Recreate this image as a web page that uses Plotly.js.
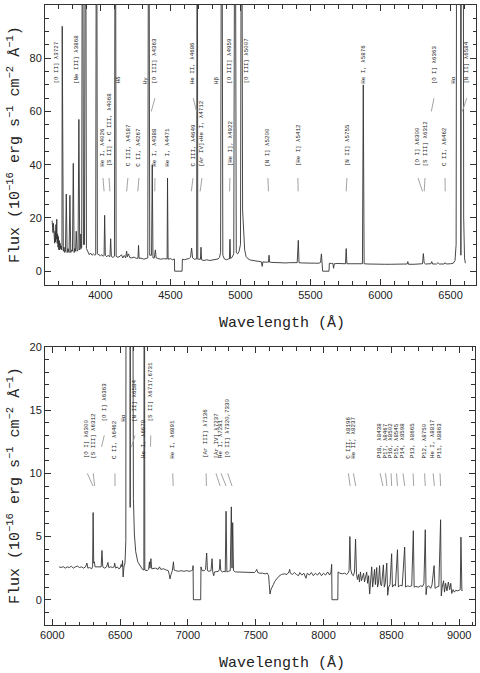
<!DOCTYPE html>
<html>
<head>
<meta charset="utf-8">
<script src="https://cdn.plot.ly/plotly-3.0.1.min.js"></script>
<style>html,body{margin:0;padding:0;background:#fff;}#chart{width:480px;height:673px;}</style>
</head>
<body>
<div id="chart"></div>
<script>
// ---------- DATA ----------
// Blue-arm spectrum: [wavelength (Å), flux (1e-16 erg/s/cm2/Å)]
const blueSpectrum = [[3655,19],[3658,17],[3661,14.5],[3664,18],[3667,12],[3670,16.5],[3673,10.5],[3676,15],[3679,11],[3682,17.5],[3685,12],[3688,19.5],[3691,10.5],[3694,14],[3697,9],[3700,13],[3703,8],[3706,11.5],[3709,8],[3712,10.5],[3715,8.5],[3719,9.5],[3723,8],[3725,9],[3727,92],[3730,8],[3735,7.5],[3740,9],[3745,7],[3750,7.5],[3756,29],[3762,7],[3768,8.5],[3776,7],[3782,28.5],[3788,7],[3794,8],[3800,7.5],[3806,40.5],[3812,7],[3817,8.5],[3822,7.5],[3827,15],[3833,7.5],[3840,8],[3846,57],[3852,8],[3857,9],[3860,14],[3863,8.5],[3866,9],[3872,200],[3879,10],[3886,10],[3893,200],[3900,8.5],[3910,7],[3920,6.2],[3930,6.8],[3940,6],[3950,6.5],[3960,6],[3966,6.2],[3972,200],[3978,6.5],[3990,6],[4000,5.8],[4010,6.2],[4020,5.6],[4026,6],[4030,21],[4035,6],[4045,5.4],[4055,6],[4062,5.5],[4068,5.6],[4073,12.2],[4078,5.5],[4090,5.2],[4100,5.6],[4106,200],[4112,5.6],[4125,5.2],[4140,5.6],[4150,6.2],[4160,5],[4170,5.9],[4180,5],[4187,7.5],[4192,5.4],[4200,6.5],[4210,5.1],[4225,5],[4240,5.3],[4255,4.8],[4268,4.9],[4272,9.7],[4276,4.8],[4290,4.9],[4310,4.5],[4325,4.8],[4338,5],[4345,200],[4352,6],[4365,6],[4370,40],[4375,5],[4385,5],[4392,8],[4398,5],[4410,4.8],[4430,4.5],[4450,4.7],[4465,4.5],[4476,4.6],[4479,35],[4483,4.5],[4500,4.7],[4515,4.3],[4528,4.6],[4530,0],[4583,0],[4585,4.5],[4600,4.3],[4620,4.5],[4635,4.8],[4643,5.2],[4651,8.7],[4658,5],[4670,4.5],[4687,4.6],[4691,200],[4695,4.5],[4705,4.6],[4714,4.5],[4718,9],[4722,4.3],[4740,4],[4760,4.3],[4780,4],[4800,4.2],[4820,4.3],[4840,4.6],[4850,5.2],[4858,7],[4866,200],[4874,6],[4885,4.6],[4900,4.3],[4915,4.6],[4921,4.6],[4925,12],[4929,4.8],[4940,5.2],[4952,6.5],[4961,200],[4970,7],[4980,6.5],[4990,7.5],[5000,10],[5008,200],[5015,23],[5022,14],[5030,8],[5040,5.5],[5055,4.6],[5070,4.2],[5090,4],[5110,3.8],[5130,3.6],[5150,3.5],[5155,1.8],[5160,3.5],[5175,3.4],[5190,3.3],[5200,3.4],[5204,6],[5208,3.4],[5225,3.3],[5250,3.2],[5275,3.3],[5300,3.2],[5325,3.1],[5350,3.2],[5380,3.1],[5405,3.2],[5413,11.6],[5418,3.2],[5440,3.1],[5470,3],[5500,3.1],[5530,3],[5560,3],[5572,3.3],[5578,6.5],[5581,2.4],[5584,5],[5587,0],[5632,0],[5635,3],[5650,2.9],[5660,2.9],[5665,1.1],[5670,2.8],[5690,2.9],[5720,2.8],[5750,2.8],[5755,8.5],[5760,2.8],[5790,2.8],[5820,2.7],[5850,2.7],[5871,2.8],[5877,70],[5883,2.8],[5910,2.7],[5950,2.6],[5990,2.7],[6030,2.6],[6070,2.6],[6110,2.6],[6150,2.6],[6190,2.7],[6195,3.6],[6200,2.6],[6240,2.6],[6280,2.7],[6300,2.8],[6306,6.6],[6312,3.1],[6320,2.7],[6360,2.8],[6366,3.6],[6372,2.7],[6400,2.7],[6410,3.2],[6420,2.7],[6455,2.7],[6462,3.2],[6470,2.7],[6500,2.8],[6520,3],[6532,4],[6540,10],[6548,300],[6556,150],[6563,1000],[6574,6],[6584,500],[6594,20],[6600,5],[6606,3]];

// Red-arm spectrum
const redSpectrum = [[6050,2.6],[6065,2.55],[6080,2.62],[6095,2.5],[6110,2.6],[6125,2.55],[6140,2.65],[6155,2.5],[6170,2.6],[6185,2.66],[6200,2.55],[6215,2.6],[6230,2.5],[6245,2.6],[6255,2.9],[6262,2.5],[6275,2.55],[6290,2.45],[6297,2.6],[6301,6.9],[6305,2.9],[6310,3.0],[6315,2.6],[6330,2.6],[6345,2.55],[6360,2.6],[6366,3.9],[6372,2.6],[6385,2.5],[6400,2.6],[6410,2.95],[6416,2.55],[6430,2.6],[6445,2.55],[6455,2.6],[6460,2.9],[6466,2.5],[6480,2.6],[6490,2.45],[6500,2.5],[6508,2.8],[6514,2.6],[6518,3.1],[6522,1.8],[6528,2.6],[6536,2.9],[6542,4.7],[6548,100],[6556,60],[6563,500],[6574,7.3],[6584,200],[6593,30],[6598,8],[6605,5.2],[6615,3.8],[6630,3.0],[6650,2.6],[6665,2.4],[6675,2.35],[6678,50],[6682,2.35],[6690,2.3],[6700,2.3],[6710,2.4],[6716,3],[6720,2.5],[6727,3.25],[6733,2.45],[6745,2.5],[6760,2.5],[6780,2.4],[6790,2.6],[6800,2.4],[6820,2.45],[6840,2.35],[6855,2.3],[6862,2.0],[6868,1.65],[6875,2.0],[6885,2.3],[6893,3.0],[6898,2.35],[6910,2.3],[6930,2.25],[6950,2.3],[6970,2.25],[6990,2.3],[7010,2.25],[7025,2.3],[7035,2.35],[7038,2.7],[7040,0],[7094,0],[7096,2.6],[7105,2.3],[7120,2.3],[7130,2.4],[7138,3.7],[7144,2.3],[7155,2.25],[7170,2.3],[7178,3.25],[7183,2.2],[7190,1.9],[7196,2.2],[7210,2.2],[7225,2.25],[7232,2.4],[7237,3.2],[7242,2.3],[7255,2.2],[7265,2.25],[7275,2.2],[7281,7.0],[7287,2.2],[7300,2.25],[7312,2.3],[7320,7.35],[7325,2.5],[7330,6.1],[7336,2.3],[7350,2.2],[7370,2.2],[7390,2.15],[7410,2.2],[7430,2.15],[7450,2.15],[7470,2.2],[7490,2.15],[7500,2.25],[7507,2.4],[7515,2.15],[7530,2.1],[7550,2.1],[7570,2.05],[7585,2.1],[7595,1.9],[7600,1.2],[7605,0.45],[7612,0.8],[7620,1.05],[7630,1.2],[7640,1.45],[7655,1.7],[7670,1.85],[7690,2.0],[7710,2.05],[7730,2.0],[7745,2.2],[7750,2.4],[7755,2.1],[7770,2.0],[7785,2.15],[7800,2.0],[7815,1.9],[7825,2.15],[7840,1.95],[7855,2.1],[7870,1.7],[7880,2.1],[7895,1.95],[7910,2.15],[7925,1.9],[7940,2.1],[7955,1.95],[7970,2.15],[7985,1.9],[8000,2.1],[8015,1.95],[8030,2.2],[8045,1.95],[8055,2.2],[8060,2.8],[8062,0],[8105,0],[8107,2.2],[8120,2.1],[8140,2.05],[8155,2.1],[8170,2.0],[8180,2.1],[8188,2.3],[8194,5.0],[8200,2.4],[8210,2.0],[8220,1.9],[8228,2.2],[8236,4.8],[8243,2.0],[8250,1.6],[8258,2.0],[8265,1.4],[8272,2.2],[8280,1.5],[8288,1.9],[8295,2.1],[8302,1.4],[8310,1.8],[8318,2.2],[8325,1.3],[8332,1.9],[8340,0.45],[8347,1.8],[8355,2.6],[8362,1.0],[8370,1.6],[8376,2.4],[8382,1.2],[8392,2.55],[8398,1.0],[8405,1.3],[8413,2.7],[8420,1.2],[8428,1.1],[8441,2.76],[8448,1.0],[8455,1.3],[8466,2.9],[8473,0.35],[8480,1.0],[8490,1.2],[8502,3.64],[8508,1.0],[8520,1.2],[8530,1.1],[8545,3.96],[8552,1.0],[8565,1.15],[8580,1.1],[8598,4.17],[8605,1.0],[8620,1.1],[8635,1.05],[8650,1.1],[8662,5.46],[8668,1.0],[8680,1.05],[8700,1.0],[8715,1.1],[8730,1.05],[8740,1.3],[8750,5.54],[8756,0.4],[8762,1.0],[8775,1.1],[8790,0.9],[8800,1.2],[8815,2.7],[8822,0.9],[8835,1.0],[8850,1.05],[8863,6.33],[8868,0.3],[8875,1.0],[8885,1.5],[8892,0.6],[8900,1.3],[8910,0.7],[8920,1.4],[8930,0.8],[8938,1.3],[8945,0.5],[8955,0.8],[8965,0.6],[8975,0.75],[8990,0.7],[9000,0.75],[9008,0.8],[9013,4.95],[9020,0.7],[9025,0.75]];

// Line identifications, upper panel
const topLabelText = ["[O II] λ3727","[Ne III] λ3868","Hδ","Hγ","[O III] λ4363","He II, λ4686","Hβ","[O III] λ4959","[O III] λ5007","He I, λ5876","[O I] λ6363","Hα","[N II] λ6584",
  "He I, λ4026","[S II] + C III, λ4068","C III, λ4187","C II, λ4267","He I, λ4388","He I, λ4471","C III, λ4649","[Ar IV]+He I, λ4712","[He I], λ4922","[N I] λ5200","[He I] λ5412","[N II] λ5755","[O I] λ6300","[S III] λ6312","C II, λ6462"];
const topLabelWave = [3687,3830,4127,4318,4389,4663,4830,4925,5044,5877,6382,6520,6616,
  4018,4061,4196,4275,4389,4482,4661,4725,4925,5196,5410,5760,6268,6318,6461];
const topLineWave = [null,null,null,null,4363,4686,null,null,null,null,6363,null,6584,
  4026,4068,4187,4267,4388,null,4649,4712,4922,5200,5412,5755,6300,6312,6462];
const topLabelRow = [1,1,1,1,1,1,1,1,1,1,1,1,1, 0,0,0,0,0,0,0,0,0,0,0,0,0,0,0];

// Line identifications, lower panel
const botLabelText = ["[O I] λ6300","[S III] λ6312","[O I] λ6363","C II, λ6462","Hα","[N II] λ6584","He I, λ6678","[S II] λ6717,6731","He I, λ6891","[Ar III] λ7136","[Ar IV] λ7237","He I, λ7281","[O II] λ7320,7330",
  "C III, λ8196","He II, λ8237","P18, λ8438","P17, λ8467","P16, λ8502","P15, λ8545","P14, λ8598","P13, λ8665","P12, λ8750","He I, λ8817","P11, λ8863"];
const botLabelWave = [6258,6302,6383,6462,6524,6610,6676,6726,6888,7134,7207,7244,7293,
  8183,8220,8417,8457,8498,8538,8586,8660,8745,8808,8859];
const botLineWave = [6300,6312,6363,6462,null,6584,null,6724,6891,7136,7237,7281,7325,
  8196,8237,8438,8467,8502,8545,8598,8665,8750,8817,8863];
const botLabelRow = [0,0,1,0,1,1,0,1,0,0,0,0,0, 0,0,0,0,0,0,0,0,0,0,0];

const yTitle = "Flux (10<sup>−16</sup> erg s<sup>−1</sup> cm<sup>−2</sup> Å<sup>−1</sup>)";
const xTitle = "Wavelength (Å)";

// ---------- STYLE / LAYOUT ----------
const topRows = [{base:39, ind:[35,30]}, {base:70, ind:[65,60]}];
const botRows = [{base:11.1, ind:[10,9]}, {base:14.0, ind:[13,12.1]}];
const ink = '#333';
const labelFont = {family:'Liberation Mono, DejaVu Sans Mono, monospace', size:5.8, color:'#222'};
const titleFont = {family:'Liberation Mono, DejaVu Sans Mono, monospace', size:15, color:'#222'};
const tickFont = {family:'Liberation Sans, Arial, sans-serif', size:11, color:'#222'};

function indicatorTrace(labelWave, lineWave, rowIdx, rows, xa, ya){
  const x=[], y=[];
  for(let i=0;i<labelWave.length;i++){
    if(lineWave[i]===null) continue;
    const r = rows[rowIdx[i]];
    x.push(labelWave[i], lineWave[i], null);
    y.push(r.ind[0], r.ind[1], null);
  }
  return {x, y, xaxis:xa, yaxis:ya, mode:'lines', line:{color:'#999', width:0.9}, hoverinfo:'skip'};
}
function labelAnns(text, labelWave, rowIdx, rows, xr, yr){
  return text.map((t,i)=>({
    text:t, x:labelWave[i], y:rows[rowIdx[i]].base, xref:xr, yref:yr,
    xanchor:'center', yanchor:'bottom', textangle:-90, showarrow:false,
    font:labelFont, borderpad:0
  }));
}

const data = [
  {x:blueSpectrum.map(p=>p[0]), y:blueSpectrum.map(p=>p[1]), xaxis:'x', yaxis:'y', mode:'lines', line:{color:ink, width:0.9}, hoverinfo:'skip'},
  {x:redSpectrum.map(p=>p[0]), y:redSpectrum.map(p=>p[1]), xaxis:'x2', yaxis:'y2', mode:'lines', line:{color:ink, width:0.9}, hoverinfo:'skip'},
  indicatorTrace(topLabelWave, topLineWave, topLabelRow, topRows, 'x', 'y'),
  indicatorTrace(botLabelWave, botLineWave, botLabelRow, botRows, 'x2', 'y2')
];

function axis(extra){
  return Object.assign({
    ticks:'inside', ticklen:6, tickwidth:1, tickcolor:ink,
    showline:true, linecolor:ink, linewidth:1, mirror:'ticks',
    showgrid:false, zeroline:false, tickfont:tickFont, tickmode:'linear', tick0:0
  }, extra);
}

const W=480, H=673, mL=45, mR=4, mT=5, mB=48;
const pw=W-mL-mR, ph=H-mT-mB;
const pyToPaper = py => (H-mB-py)/ph;
const pxToPaper = px => (px-mL)/pw;

const annotations = [].concat(
  labelAnns(topLabelText, topLabelWave, topLabelRow, topRows, 'x', 'y'),
  labelAnns(botLabelText, botLabelWave, botLabelRow, botRows, 'x2', 'y2'),
  [
    {text:xTitle, xref:'paper', yref:'paper', x:pxToPaper(282), y:pyToPaper(323), xanchor:'center', yanchor:'middle', showarrow:false, font:titleFont},
    {text:xTitle, xref:'paper', yref:'paper', x:pxToPaper(282), y:pyToPaper(663), xanchor:'center', yanchor:'middle', showarrow:false, font:titleFont},
    {text:yTitle, xref:'paper', yref:'paper', x:pxToPaper(14), y:pyToPaper(145), xanchor:'center', yanchor:'middle', textangle:-90, showarrow:false, font:titleFont},
    {text:yTitle, xref:'paper', yref:'paper', x:pxToPaper(14), y:pyToPaper(486), xanchor:'center', yanchor:'middle', textangle:-90, showarrow:false, font:titleFont}
  ]
);

const layout = {
  width:W, height:H, margin:{l:mL, r:mR, t:mT, b:mB},
  paper_bgcolor:'#fff', plot_bgcolor:'#fff', showlegend:false,
  xaxis: axis({domain:[0,1], anchor:'y', range:[3604,6682], dtick:500,
    minor:{dtick:100, tick0:0, ticks:'inside', ticklen:3.5, tickcolor:ink, showgrid:false}}),
  yaxis: axis({domain:[pyToPaper(284.5),1], anchor:'x', range:[-5,100], dtick:20,
    minor:{dtick:5, tick0:0, ticks:'inside', ticklen:3.5, tickcolor:ink, showgrid:false}}),
  xaxis2: axis({domain:[0,pxToPaper(474.5)], anchor:'y2', range:[5946,9113], dtick:500,
    minor:{dtick:100, tick0:0, ticks:'inside', ticklen:3.5, tickcolor:ink, showgrid:false}}),
  yaxis2: axis({domain:[0,pyToPaper(347)], anchor:'x2', range:[-2,20], dtick:5,
    minor:{dtick:1, tick0:0, ticks:'inside', ticklen:3.5, tickcolor:ink, showgrid:false}}),
  annotations
};

Plotly.newPlot('chart', data, layout, {staticPlot:true, displayModeBar:false});
</script>
</body>
</html>
